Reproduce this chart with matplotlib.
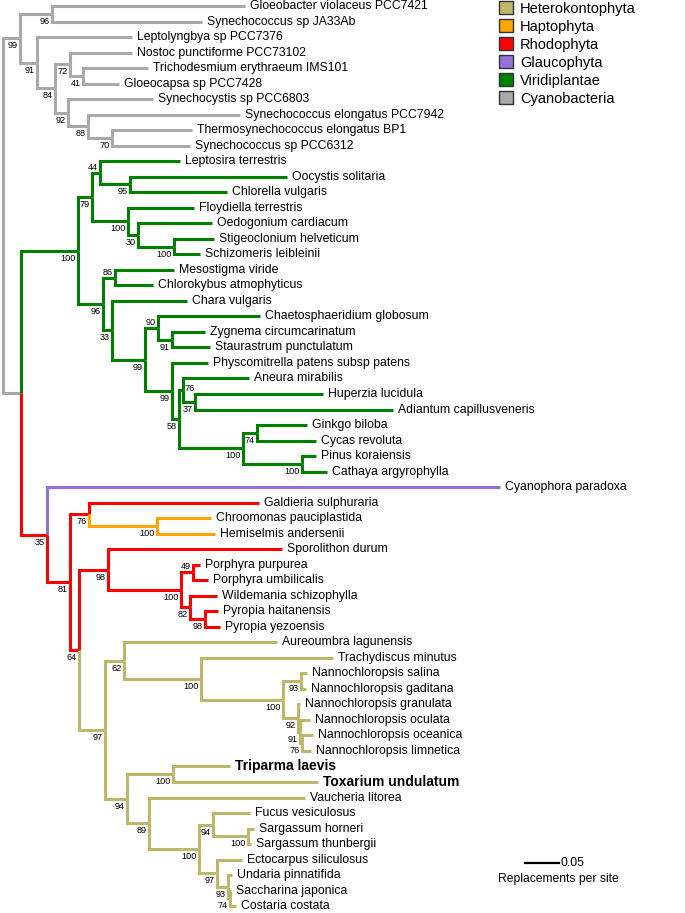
import matplotlib
matplotlib.use("Agg")
import matplotlib.pyplot as plt
from matplotlib.patches import Patch

plt.rcParams['font.family'] = ['Liberation Sans', 'DejaVu Sans']

# each row: (node, parent, branch length [replacements per site], bootstrap support)
cyanobacteria = [
    ("c99", "root", 0.0250, 99),
    ("c96", "c99", 0.0471, 96),
    ("Gloeobacter violaceus PCC7421", "c96", 0.2838, None),
    ("Synechococcus sp JA33Ab", "c96", 0.2206, None),
    ("c91", "c99", 0.0250, 91),
    ("Leptolyngbya sp PCC7376", "c91", 0.1397, None),
    ("c84", "c91", 0.0265, 84),
    ("c72", "c84", 0.0221, 72),
    ("Nostoc punctiforme PCC73102", "c72", 0.0912, None),
    ("c41", "c72", 0.0191, 41),
    ("Trichodesmium erythraeum IMS101", "c41", 0.0956, None),
    ("Gloeocapsa sp PCC7428", "c41", 0.0529, None),
    ("c92", "c84", 0.0191, 92),
    ("Synechocystis sp PCC6803", "c92", 0.1250, None),
    ("c88", "c92", 0.0294, 88),
    ("Synechococcus elongatus PCC7942", "c88", 0.2235, None),
    ("c70", "c88", 0.0353, 70),
    ("Thermosynechococcus elongatus BP1", "c70", 0.1176, None),
    ("Synechococcus sp PCC6312", "c70", 0.1147, None),
    ("plastid", "root", 0.0265, None),
]

viridiplantae = [
    ("v100", "plastid", 0.0838, 100),
    ("v79", "v100", 0.0206, 79),
    ("v44", "v79", 0.0118, 44),
    ("Leptosira terrestris", "v44", 0.1176, None),
    ("v95", "v44", 0.0441, 95),
    ("Oocystis solitaria", "v95", 0.2309, None),
    ("Chlorella vulgaris", "v95", 0.1426, None),
    ("v100a", "v79", 0.0529, 100),
    ("Floydiella terrestris", "v100a", 0.0971, None),
    ("v30", "v100a", 0.0147, 30),
    ("Oedogonium cardiacum", "v30", 0.1088, None),
    ("v100b", "v30", 0.0529, 100),
    ("Stigeoclonium helveticum", "v100b", 0.0588, None),
    ("Schizomeris leibleinii", "v100b", 0.0382, None),
    ("v96", "v100", 0.0368, 96),
    ("v86", "v96", 0.0176, 86),
    ("Mesostigma viride", "v86", 0.0868, None),
    ("Chlorokybus atmophyticus", "v86", 0.0559, None),
    ("v33", "v96", 0.0132, 33),
    ("Chara vulgaris", "v33", 0.1103, None),
    ("v99a", "v33", 0.0485, 99),
    ("v90", "v99a", 0.0191, 90),
    ("Chaetosphaeridium globosum", "v90", 0.1500, None),
    ("v91", "v90", 0.0206, 91),
    ("Zygnema circumcarinatum", "v91", 0.0485, None),
    ("Staurastrum punctulatum", "v91", 0.0559, None),
    ("v99b", "v99a", 0.0397, 99),
    ("Physcomitrella patens subsp patens", "v99b", 0.0529, None),
    ("v58", "v99b", 0.0103, 58),
    ("v76", "v58", 0.0059, 76),
    ("Aneura mirabilis", "v76", 0.0971, None),
    ("v37", "v76", 0.0176, 37),
    ("Huperzia lucidula", "v37", 0.1882, None),
    ("Adiantum capillusveneris", "v37", 0.2912, None),
    ("v100g", "v58", 0.0941, 100),
    ("v74", "v100g", 0.0206, 74),
    ("Ginkgo biloba", "v74", 0.0735, None),
    ("Cycas revoluta", "v74", 0.0868, None),
    ("v100p", "v100g", 0.0868, 100),
    ("Pinus koraiensis", "v100p", 0.0206, None),
    ("Cathaya argyrophylla", "v100p", 0.0368, None),
]

glaucophyta = [
    ("Cyanophora paradoxa", "r35", 0.6662, None),
]

rhodophyta = [
    ("r35", "plastid", 0.0382, 35),
    ("r81", "r35", 0.0338, 81),
    ("r76", "r81", 0.0279, 76),
    ("Galdieria sulphuraria", "r76", 0.2500, None),
    ("r64", "r81", 0.0132, 64),
    ("r98", "r64", 0.0426, 98),
    ("Sporolithon durum", "r98", 0.2559, None),
    ("r100", "r98", 0.1074, 100),
    ("r49", "r100", 0.0176, 49),
    ("Porphyra purpurea", "r49", 0.0103, None),
    ("Porphyra umbilicalis", "r49", 0.0221, None),
    ("r82", "r100", 0.0132, 82),
    ("Wildemania schizophylla", "r82", 0.0397, None),
    ("r98p", "r82", 0.0221, 98),
    ("Pyropia haitanensis", "r98p", 0.0191, None),
    ("Pyropia yezoensis", "r98p", 0.0221, None),
]

haptophyta = [
    ("h100", "r76", 0.1000, 100),
    ("Chroomonas pauciplastida", "h100", 0.0794, None),
    ("Hemiselmis andersenii", "h100", 0.0853, None),
]

heterokontophyta = [
    ("s97", "r64", 0.0382, 97),
    ("s62", "s97", 0.0279, 62),
    ("Aureoumbra lagunensis", "s62", 0.2250, None),
    ("s100t", "s62", 0.1132, 100),
    ("Trachydiscus minutus", "s100t", 0.1941, None),
    ("s100n", "s100t", 0.1206, 100),
    ("s93n", "s100n", 0.0265, 93),
    ("Nannochloropsis salina", "s93n", 0.0088, None),
    ("Nannochloropsis gaditana", "s93n", 0.0074, None),
    ("s92n", "s100n", 0.0221, 92),
    ("Nannochloropsis granulata", "s92n", 0.0029, None),
    ("s91n", "s92n", 0.0029, 91),
    ("Nannochloropsis oculata", "s91n", 0.0147, None),
    ("s76n", "s91n", 0.0029, 76),
    ("Nannochloropsis oceanica", "s76n", 0.0162, None),
    ("Nannochloropsis limnetica", "s76n", 0.0132, None),
    ("s94", "s97", 0.0324, 94),
    ("s100d", "s94", 0.0676, 100),
    ("Triparma laevis", "s100d", 0.0838, None),
    ("Toxarium undulatum", "s100d", 0.2132, None),
    ("s89", "s94", 0.0324, 89),
    ("Vaucheria litorea", "s89", 0.2294, None),
    ("s100f", "s89", 0.0735, 100),
    ("s94f", "s100f", 0.0206, 94),
    ("Fucus vesiculosus", "s94f", 0.0544, None),
    ("s100s", "s94f", 0.0515, 100),
    ("Sargassum horneri", "s100s", 0.0088, None),
    ("Sargassum thunbergii", "s100s", 0.0044, None),
    ("s97f", "s100f", 0.0265, 97),
    ("Ectocarpus siliculosus", "s97f", 0.0368, None),
    ("s93f", "s97f", 0.0162, 93),
    ("Undaria pinnatifida", "s93f", 0.0059, None),
    ("s74f", "s93f", 0.0029, 74),
    ("Saccharina japonica", "s74f", 0.0015, None),
    ("Costaria costata", "s74f", 0.0088, None),
]

scale_len = 0.05

groups = [("Cyanobacteria", cyanobacteria), ("Viridiplantae", viridiplantae),
          ("Glaucophyta", glaucophyta), ("Rhodophyta", rhodophyta),
          ("Haptophyta", haptophyta), ("Heterokontophyta", heterokontophyta)]
colors = {"Heterokontophyta": "#bdb76b", "Haptophyta": "#ffa500",
          "Rhodophyta": "#ff0000", "Glaucophyta": "#9370db",
          "Viridiplantae": "#008000", "Cyanobacteria": "#a9a9a9"}
legend_order = ["Heterokontophyta", "Haptophyta", "Rhodophyta",
                "Glaucophyta", "Viridiplantae", "Cyanobacteria"]
bold_tips = {"Triparma laevis", "Toxarium undulatum"}
# support labels not drawn below-left of their node
label_place = {"v86": "above", "v44": "above", "v90": "above",
               "r49": "above", "v76": "right"}

children = {}
info = {}
for grp, rows in groups:
    for node, parent, bl, boot in rows:
        children.setdefault(parent, []).append(node)
        info[node] = (parent, bl, boot, grp)

xs, ys = {}, {}
leaves = []


def place(node, x):
    xs[node] = x
    kids = children.get(node, [])
    if not kids:
        ys[node] = len(leaves)
        leaves.append(node)
        return
    for k in kids:
        place(k, x + info[k][1])
    ys[node] = (ys[kids[0]] + ys[kids[-1]]) / 2


place("root", 0.0)

fig = plt.figure(figsize=(6.85, 9.13), dpi=100)
ax = fig.add_axes([0, 0, 1, 1])

lw = 2.2
for node, (parent, bl, boot, grp) in info.items():
    if parent == "root":
        ax.plot([xs[parent], xs[node]], [ys[node], ys[node]],
                color=colors[grp], lw=lw, solid_capstyle='butt')
    else:
        ax.plot([xs[parent], xs[parent], xs[node]], [ys[parent], ys[node], ys[node]],
                color=colors[grp], lw=lw, solid_joinstyle='miter', solid_capstyle='butt')
# root vertical in one piece
root_kids = children["root"]
ax.plot([0, 0], [ys[root_kids[0]] - 0.07, ys[root_kids[-1]] + 0.07],
        color=colors["Cyanobacteria"], lw=lw, solid_capstyle='butt')

for node, (parent, bl, boot, grp) in info.items():
    if node in leaves:
        ax.annotate(node, (xs[node], ys[node]), xytext=(5, 0), textcoords='offset pixels',
                    ha='left', va='center',
                    fontsize=10 if node in bold_tips else 8.8,
                    fontweight='bold' if node in bold_tips else 'normal')
    elif boot is not None:
        where = label_place.get(node, "below")
        if where == "below":
            off, ha, va = (-2, -3), 'right', 'top'
        elif where == "above":
            off, ha, va = (-2, 1), 'right', 'bottom'
        else:
            off, ha, va = (2, 2), 'left', 'center'
        ax.annotate(str(boot), (xs[node], ys[node]), xytext=off, textcoords='offset pixels',
                    ha=ha, va=va, fontsize=6.6)

handles = [Patch(facecolor=colors[g], edgecolor='#333333', label=g) for g in legend_order]
ax.legend(handles=handles, loc='upper left', bbox_to_anchor=(498 / 685, 1.0),
          frameon=False, fontsize=10.5, handlelength=0.95, handleheight=0.95,
          handletextpad=0.45, labelspacing=0.25, borderpad=0.1, borderaxespad=0)

# scale bar
sb_x, sb_y = 0.768, 55.2
ax.plot([sb_x, sb_x + scale_len], [sb_y, sb_y], color='black', lw=1.6)
ax.annotate(f"{scale_len:.2f}", (sb_x + scale_len, sb_y), xytext=(1, 0),
            textcoords='offset pixels', ha='left', va='center', fontsize=8.7)
ax.annotate("Replacements per site", (sb_x + scale_len / 2, sb_y), xytext=(16, -16),
            textcoords='offset pixels', ha='center', va='center', fontsize=8.7)

ax.set_xlim(-3 / 680, 682 / 680)
ax.set_ylim((913 - 6) / 15.52, -6 / 15.52)
ax.axis('off')

fig.savefig("out.png", dpi=100)
